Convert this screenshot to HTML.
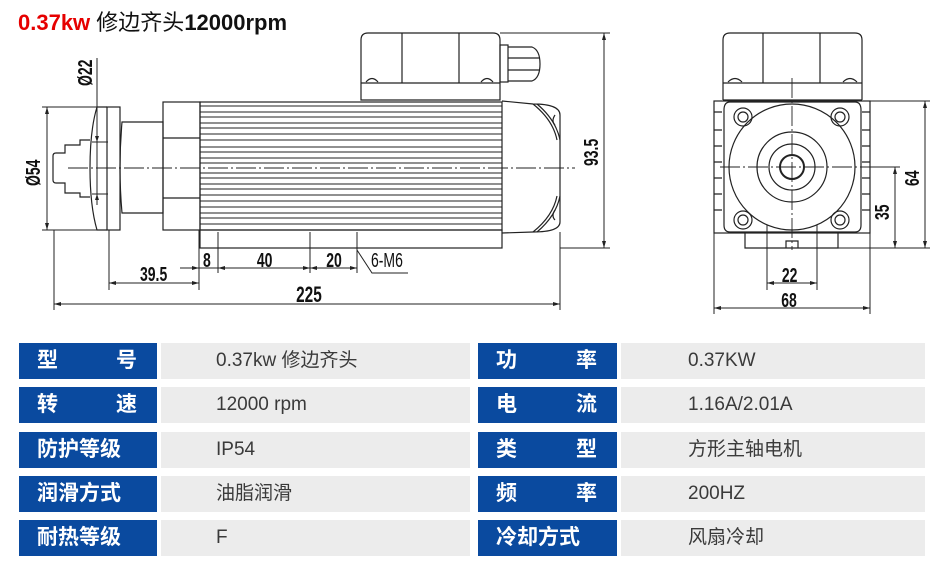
<!DOCTYPE html>
<html><head><meta charset="utf-8"><style>
body{margin:0;background:#fff;width:946px;height:565px;overflow:hidden;position:relative;font-family:"Liberation Sans","Noto Sans CJK SC",sans-serif}
.t{position:absolute;left:18px;top:5px;font-size:22px;font-weight:bold;color:#111;white-space:nowrap}
.t b{color:#e60000}
.t span{font-weight:normal}
.r{position:absolute;height:36px;line-height:36px;font-size:19px}
.l{background:#0a4a9f;color:#fff;font-weight:bold;font-size:21px;padding-left:18px;box-sizing:border-box}
.v{background:#ececec;color:#3a3a3a;padding-left:55px;box-sizing:border-box}
.sp{display:flex;justify-content:space-between;padding-right:20px}
</style></head><body>
<div class="t"><b>0.37kw</b> <span>修边齐头</span>12000rpm</div>
<svg width="946" height="330" style="position:absolute;left:0;top:0" fill="none" stroke="#222" stroke-width="1.2" font-family="Liberation Sans Narrow,Liberation Sans,sans-serif">
<path d="M361 100 V40 Q361 33 368 33 H493 Q500 33 500 40 V100 Z"/>
<line x1="402" y1="33" x2="402" y2="83"/><line x1="459" y1="33" x2="459" y2="83"/>
<line x1="361" y1="83" x2="500" y2="83"/>
<path d="M366 82 q6 -7 12 0 M481 82 q6 -7 12 0"/>
<rect x="500" y="45" width="8" height="37"/><path d="M508 47 H532 Q540 50 540 64 Q540 78 532 81 H508"/>
<line x1="508" y1="58" x2="540" y2="58"/><line x1="508" y1="70" x2="540" y2="70"/>
<rect x="163" y="102" width="37" height="128"/>
<line x1="163" y1="138" x2="200" y2="138"/><line x1="163" y1="198" x2="200" y2="198"/>
<rect x="200" y="102" width="302" height="128"/>
<g stroke-width="1">
<path d="M200 106H502M200 112H502M200 117H502M200 123H502M200 128H502M200 134H502M200 140H502M200 147H502M200 152H502M200 158H502M200 163H502M200 173H502M200 178H502M200 184H502M200 189H502M200 195H502M200 201H502M200 207H502M200 213H502M200 218H502M200 224H502"/>
</g>
<rect x="200" y="230" width="302" height="18"/>
<path d="M502 101 L533 104 Q560 104 560 115 V222 Q560 232 533 232 L502 233"/>
<path d="M533 104 Q553 120 557 140 M537 104 Q556 120 560 140 M533 232 Q553 216 557 196 M537 232 Q556 216 560 196"/>
<path d="M555 115 q-4 6 0 10 M555 210 q-4 6 0 10"/>
<path d="M122 122 H163 V213 H122 Q118 168 122 122 Z"/>
<rect x="107" y="107" width="13" height="123"/>
<path d="M107 107 H97 Q90 130 90 168 Q90 206 97 230 H107"/>
<path d="M90 140 H80 V145 H65 V153 H56 Q53 153 53 156 V180 Q53 183 56 183 H65 V193 H80 V197 H90"/>
<path d="M92 142H108M92 194H108" stroke-width="1"/>
<line x1="68" y1="168" x2="575" y2="168" stroke-width="0.9" stroke-dasharray="20 3 2 3"/>
<line x1="720" y1="167" x2="872" y2="167" stroke-width="0.9" stroke-dasharray="20 3 2 3"/>
<line x1="792" y1="78" x2="792" y2="250" stroke-width="0.9" stroke-dasharray="20 3 2 3"/>
<g stroke-width="1">
<line x1="42" y1="107" x2="107" y2="107"/><line x1="42" y1="230" x2="107" y2="230"/>
<line x1="47" y1="107" x2="47" y2="230"/>
<line x1="97" y1="58" x2="97" y2="205"/>
<line x1="500" y1="33" x2="610" y2="33"/><line x1="560" y1="248" x2="610" y2="248"/>
<line x1="604" y1="33" x2="604" y2="248"/>
<line x1="54" y1="230" x2="54" y2="310"/><line x1="560" y1="232" x2="560" y2="310"/>
<line x1="54" y1="304" x2="560" y2="304"/>
<line x1="109" y1="230" x2="109" y2="290"/><line x1="199" y1="230" x2="199" y2="290"/>
<line x1="109" y1="283" x2="199" y2="283"/>
<line x1="218" y1="232" x2="218" y2="273"/><line x1="310" y1="232" x2="310" y2="273"/><line x1="357" y1="232" x2="357" y2="273"/>
<line x1="180" y1="268" x2="357" y2="268"/>
<path d="M357 250 L372 273 H408"/>
</g>
<g fill="#222" stroke="none">
<path d="M47 107l-2 7h4zM47 230l-2-7h4zM604 33l-2 7h4zM604 248l-2-7h4zM54 304l7-2v4zM560 304l-7-2v4zM109 283l7-2v4zM199 283l-7-2v4zM199 268l-7-2v4zM218 268l7-2v4zM310 268l-7-2v4zM310 268l7-2v4zM357 268l-7-2v4zM97 142l-2-6h4zM97 194l-2 6h4z"/>
</g>
<g fill="#111" stroke="none" font-size="20" font-weight="bold">
<text x="423" y="302" transform="scale(0.7 1)" font-size="22">225</text>
<text x="200" y="281" transform="scale(0.7 1)">39.5</text>
<text x="290" y="267" transform="scale(0.7 1)">8</text>
<text x="367" y="267" transform="scale(0.7 1)">40</text>
<text x="466" y="267" transform="scale(0.7 1)">20</text>
<text x="530" y="267" transform="scale(0.7 1)" font-weight="normal">6-M6</text>
<text transform="translate(40 186) rotate(-90) scale(0.7 1)">Ø54</text>
<text transform="translate(92 86) rotate(-90) scale(0.7 1)">Ø22</text>
<text transform="translate(598 166) rotate(-90) scale(0.7 1)">93.5</text>
<text transform="translate(919 186) rotate(-90) scale(0.7 1)">64</text>
<text transform="translate(889 220) rotate(-90) scale(0.7 1)">35</text>
<text x="1117" y="282" transform="scale(0.7 1)">22</text>
<text x="1116" y="307" transform="scale(0.7 1)">68</text>
</g>
<path d="M723 100 V40 Q723 33 730 33 H855 Q862 33 862 40 V100"/>
<line x1="763" y1="33" x2="763" y2="83"/><line x1="820" y1="33" x2="820" y2="83"/>
<line x1="723" y1="83" x2="862" y2="83"/><line x1="723" y1="100" x2="862" y2="100"/>
<path d="M728 82 q7 -7 14 0 M843 82 q7 -7 14 0"/>
<rect x="714" y="101" width="156" height="132"/>
<path d="M730 102 H855 Q861 102 861 110 V225 Q861 232 855 232 H730 Q724 232 724 225 V110 Q724 102 730 102Z"/>
<path d="M714 112h8M714 130h8M714 146h8M714 162h8M714 178h8M714 194h8M714 210h8M862 112h8M862 130h8M862 146h8M862 162h8M862 178h8M862 194h8M862 210h8"/>
<circle cx="792" cy="167" r="63"/>
<circle cx="792" cy="167" r="35"/>
<circle cx="792" cy="167" r="23"/>
<circle cx="792" cy="167" r="12" stroke-width="2"/>
<g><circle cx="743" cy="117" r="9"/><circle cx="743" cy="117" r="5"/><circle cx="840" cy="117" r="9"/><circle cx="840" cy="117" r="5"/><circle cx="743" cy="220" r="9"/><circle cx="743" cy="220" r="5"/><circle cx="840" cy="220" r="9"/><circle cx="840" cy="220" r="5"/></g>
<path d="M745 233 V248 H838 V233 M786 248 V241 H798 V248"/>
<g stroke-width="1">
<line x1="870" y1="101" x2="930" y2="101"/><line x1="838" y1="248" x2="930" y2="248"/>
<line x1="925" y1="101" x2="925" y2="248"/>
<line x1="870" y1="167" x2="900" y2="167"/><line x1="895" y1="167" x2="895" y2="248"/>
<line x1="767" y1="225" x2="767" y2="290"/><line x1="817" y1="225" x2="817" y2="290"/>
<line x1="767" y1="283" x2="817" y2="283"/>
<line x1="714" y1="233" x2="714" y2="314"/><line x1="870" y1="233" x2="870" y2="314"/>
<line x1="714" y1="308" x2="870" y2="308"/>
</g>
<g fill="#222" stroke="none"><path d="M925 101l-2 7h4zM925 248l-2-7h4zM895 167l-2 7h4zM895 248l-2-7h4zM767 283l7-2v4zM817 283l-7-2v4zM714 308l7-2v4zM870 308l-7-2v4z"/></g>
</svg>
<div class="r l sp" style="left:19px;top:343px;width:138px"><span>型</span><span>号</span></div>
<div class="r v" style="left:161px;top:343px;width:309px">0.37kw 修边齐头</div>
<div class="r l sp" style="left:478px;top:343px;width:139px"><span>功</span><span>率</span></div>
<div class="r v" style="left:621px;top:343px;width:304px;padding-left:67px">0.37KW</div>
<div class="r l sp" style="left:19px;top:387px;width:138px"><span>转</span><span>速</span></div>
<div class="r v" style="left:161px;top:387px;width:309px">12000 rpm</div>
<div class="r l sp" style="left:478px;top:387px;width:139px"><span>电</span><span>流</span></div>
<div class="r v" style="left:621px;top:387px;width:304px;padding-left:67px">1.16A/2.01A</div>
<div class="r l" style="left:19px;top:432px;width:138px">防护等级</div>
<div class="r v" style="left:161px;top:432px;width:309px">IP54</div>
<div class="r l sp" style="left:478px;top:432px;width:139px"><span>类</span><span>型</span></div>
<div class="r v" style="left:621px;top:432px;width:304px;padding-left:67px">方形主轴电机</div>
<div class="r l" style="left:19px;top:476px;width:138px">润滑方式</div>
<div class="r v" style="left:161px;top:476px;width:309px">油脂润滑</div>
<div class="r l sp" style="left:478px;top:476px;width:139px"><span>频</span><span>率</span></div>
<div class="r v" style="left:621px;top:476px;width:304px;padding-left:67px">200HZ</div>
<div class="r l" style="left:19px;top:520px;width:138px">耐热等级</div>
<div class="r v" style="left:161px;top:520px;width:309px">F</div>
<div class="r l" style="left:478px;top:520px;width:139px">冷却方式</div>
<div class="r v" style="left:621px;top:520px;width:304px;padding-left:67px">风扇冷却</div>
</body></html>
